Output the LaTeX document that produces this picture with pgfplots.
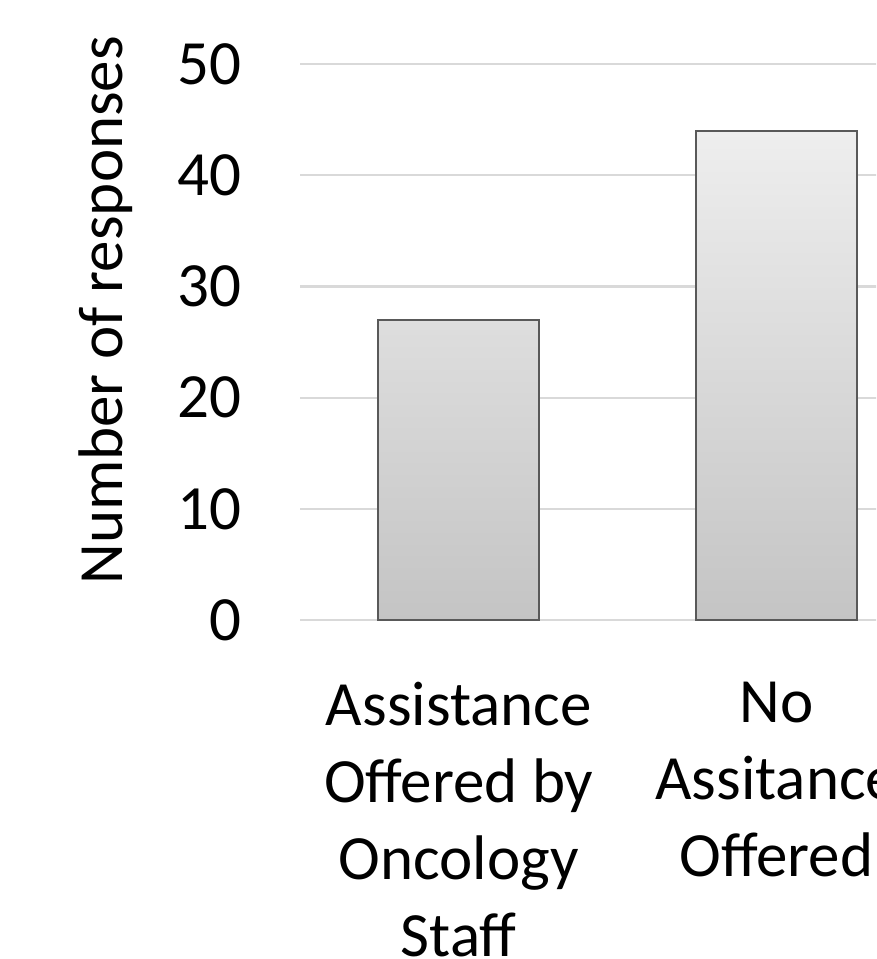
\documentclass[border=0pt]{standalone}
\usepackage{fontspec}
\setmainfont{Carlito}
\usepackage{pgfplots}
\pgfplotsset{compat=1.18}

\definecolor{gridgray}{HTML}{D9D9D9}
\definecolor{barline}{HTML}{595959}
\definecolor{bartop}{HTML}{EEEEEE}
\definecolor{barbottom}{HTML}{C4C4C4}

\begin{document}
\begin{tikzpicture}
\clip (0pt,0pt) rectangle (876pt,-959pt);
\begin{axis}[
    at={(300pt,-620pt)},
    anchor=south west,
    scale only axis,
    width=635pt,
    height=556pt,
    xmin=-0.5, xmax=1.5,
    ymin=0, ymax=50,
    ytick={0,10,...,50},
    xtick={0,1},
    xticklabels={Assistance\\Offered by\\Oncology\\Staff, No\\Assitance\\Offered},
    ymajorgrids=true,
    grid style={gridgray, line width=2.2pt},
    axis line style={draw=none},
    major tick length=0pt,
    /pgf/number format/assume math mode=true,
    tick label style={font=\fontsize{63}{77}\selectfont, inner sep=0pt},
    yticklabel style={anchor=east, xshift=-58pt},
    xticklabel style={anchor=north, align=center, yshift=-62pt},
    ylabel={Number of responses},
    ylabel style={font=\fontsize{63}{77}\selectfont, at={(axis description cs:-0.279,0.557)}, anchor=base, inner sep=0pt},
    clip=false,
]
\addplot[ybar, bar width=161pt, draw=barline, line width=2pt,
    top color=bartop, bottom color=barbottom]
    coordinates {(0,27) (1,44)};
\end{axis}
\end{tikzpicture}
\end{document}
